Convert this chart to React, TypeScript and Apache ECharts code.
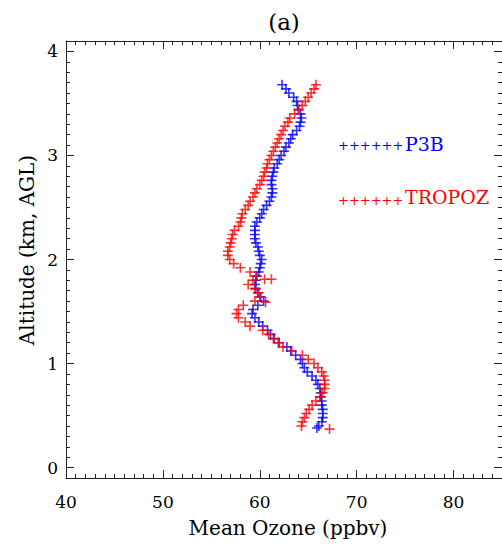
import React, { useEffect, useRef } from "react";
import * as echarts from "echarts";

// ---- data ----
const p3bAltitude = [
  0.38, 0.4, 0.44, 0.48, 0.52, 0.56, 0.6, 0.64, 0.68, 0.72, 0.76, 0.8, 0.84, 0.88, 0.92, 0.96,
  1.0, 1.04, 1.08, 1.12, 1.16, 1.2, 1.24, 1.28, 1.32, 1.36, 1.4, 1.44, 1.48, 1.52, 1.56, 1.6,
  1.64, 1.68, 1.72, 1.76, 1.8, 1.84, 1.88, 1.92, 1.96, 2.0, 2.04, 2.08, 2.12, 2.16, 2.2, 2.24,
  2.28, 2.32, 2.36, 2.4, 2.44, 2.48, 2.52, 2.56, 2.6, 2.64, 2.68, 2.72, 2.76, 2.8, 2.84, 2.88,
  2.92, 2.96, 3.0, 3.04, 3.08, 3.12, 3.16, 3.2, 3.24, 3.28, 3.32, 3.36, 3.4, 3.44, 3.48, 3.52,
  3.56, 3.6, 3.64, 3.68,
];
const p3bOzone = [
  65.9, 66.1, 66.4, 66.5, 66.5, 66.5, 66.4, 66.4, 66.3, 66.3, 66.2, 66.0, 65.8, 65.4, 64.9, 64.6,
  64.4, 64.2, 63.7, 63.2, 62.8, 62.0, 61.5, 61.1, 60.8, 60.3, 59.9, 59.5, 59.2, 59.3, 59.8, 60.4,
  60.1, 59.8, 59.6, 59.5, 59.6, 59.7, 59.9, 60.0, 60.1, 60.2, 60.0, 59.9, 59.8, 59.6, 59.5, 59.5,
  59.5, 59.5, 59.7, 60.0, 60.2, 60.4, 60.7, 61.0, 61.2, 61.3, 61.3, 61.2, 61.2, 61.3, 61.4, 61.5,
  61.8, 62.0, 62.2, 62.5, 62.7, 63.0, 63.2, 63.4, 63.8, 64.1, 64.2, 64.3, 64.2, 64.0, 63.9, 63.8,
  63.5, 63.0, 62.7, 62.3,
];

const tropozAltitude = [
  0.4, 0.44, 0.48, 0.52, 0.56, 0.6, 0.64, 0.68, 0.72, 0.76, 0.8, 0.84, 0.88, 0.92, 0.96,
  1.0, 1.04, 1.08, 1.12, 1.16, 1.2, 1.24, 1.28, 1.32, 1.36, 1.4, 1.44, 1.48, 1.52, 1.56, 1.6,
  1.64, 1.68, 1.72, 1.76, 1.8, 1.84, 1.88, 1.92, 1.96, 2.0, 2.04, 2.08, 2.12, 2.16, 2.2, 2.24,
  2.28, 2.32, 2.36, 2.4, 2.44, 2.48, 2.52, 2.56, 2.6, 2.64, 2.68, 2.72, 2.76, 2.8, 2.84, 2.88,
  2.92, 2.96, 3.0, 3.04, 3.08, 3.12, 3.16, 3.2, 3.24, 3.28, 3.32, 3.36, 3.4, 3.44, 3.48, 3.52,
  3.56, 3.6, 3.64, 3.68,
  // scattered extra points
  0.37, 1.81, 1.81, 1.59,
];
const tropozOzone = [
  64.3, 64.4, 64.6, 64.8, 65.1, 65.4, 65.8, 66.2, 66.5, 66.7, 66.7, 66.7, 66.6, 66.4, 66.0,
  65.6, 65.0, 64.4, 63.3, 62.4, 61.9, 61.4, 60.9, 60.3, 59.0, 58.5, 57.8, 57.6, 57.8, 58.3, 59.5,
  60.0, 59.9, 59.5, 58.8, 59.3, 59.6, 59.0, 58.0, 57.3, 56.9, 56.7, 56.7, 56.9, 57.0, 57.1, 57.2,
  57.4, 57.8, 58.0, 58.1, 58.2, 58.5, 58.8, 59.0, 59.3, 59.5, 59.7, 60.0, 60.2, 60.4, 60.5, 60.7,
  60.8, 61.0, 61.2, 61.4, 61.6, 61.8, 62.0, 62.2, 62.4, 62.6, 62.9, 63.1, 63.6, 64.0, 64.4, 64.7,
  65.0, 65.3, 65.6, 65.8,
  67.2, 60.5, 61.2, 60.6,
];

const xMajorTicks = [40, 50, 60, 70, 80];
const yMajorTicks = [0, 1, 2, 3, 4];
const xMin = 40;
const xMax = 85;
const yMin = -0.1;
const yMax = 4.1;

const seriesNames = ["P3B", "TROPOZ"];
const seriesColors = ["#0000ff", "#ff0000"];

const xMinorTicks: number[] = [];
for (let v = 41; v <= 85; v++) if (v % 10 !== 0) xMinorTicks.push(v);
const yMinorTicks: number[] = [];
for (let k = 1; k <= 40; k++) if (k % 10 !== 0) yMinorTicks.push(k / 10);

const PLUS = "path://M0,8.4H20V11.6H0Z M8.4,0H11.6V20H8.4Z";
const SERIF = "DejaVu Serif";
const LINE = { color: "#222", width: 1 };

function xAxis(position: "top" | "bottom", major: boolean, labels: boolean) {
  return {
    type: "value",
    position,
    min: xMin,
    max: xMax,
    axisLine: { show: major, onZero: false, lineStyle: LINE },
    axisTick: {
      show: true,
      inside: true,
      length: major ? 8 : 4,
      customValues: major ? xMajorTicks : xMinorTicks,
      lineStyle: LINE,
    },
    axisLabel: labels
      ? { show: true, customValues: xMajorTicks, margin: 15, fontFamily: SERIF, fontSize: 17, color: "#000" }
      : { show: false },
    splitLine: { show: false },
  };
}

function yAxis(position: "left" | "right", major: boolean, labels: boolean) {
  return {
    type: "value",
    position,
    min: yMin,
    max: yMax,
    axisLine: { show: major, onZero: false, lineStyle: LINE },
    axisTick: {
      show: true,
      inside: true,
      length: major ? 8 : 4,
      customValues: major ? yMajorTicks : yMinorTicks,
      lineStyle: LINE,
    },
    axisLabel: labels
      ? { show: true, customValues: yMajorTicks, margin: 8, fontFamily: SERIF, fontSize: 17, color: "#000" }
      : { show: false },
    splitLine: { show: false },
  };
}

export default function App() {
  const ref = useRef<HTMLDivElement>(null);
  useEffect(() => {
    if (!ref.current) return;
    const chart = echarts.init(ref.current, undefined, { renderer: "svg" });
    const p3bData = p3bOzone.map((v, i) => [v, p3bAltitude[i]]);
    const tropozData = tropozOzone.map((v, i) => [v, tropozAltitude[i]]);
    chart.setOption({
      animation: false,
      backgroundColor: "#fff",
      grid: { left: 66, top: 41, width: 436, height: 437, containLabel: false },
      xAxis: [
        xAxis("bottom", true, true),
        xAxis("bottom", false, false),
        xAxis("top", true, false),
        xAxis("top", false, false),
      ],
      yAxis: [
        yAxis("left", true, true),
        yAxis("left", false, false),
        yAxis("right", true, false),
        yAxis("right", false, false),
      ],
      series: [
        {
          name: seriesNames[0],
          type: "scatter",
          xAxisIndex: 0,
          yAxisIndex: 0,
          symbol: PLUS,
          symbolSize: 10,
          itemStyle: { color: seriesColors[0] },
          data: p3bData,
          silent: true,
        },
        {
          name: seriesNames[1],
          type: "scatter",
          xAxisIndex: 0,
          yAxisIndex: 0,
          symbol: PLUS,
          symbolSize: 10,
          itemStyle: { color: seriesColors[1] },
          data: tropozData,
          silent: true,
        },
      ],
      graphic: [
        {
          type: "text",
          x: 284,
          y: 22,
          style: { text: "(a)", fontFamily: SERIF, fontSize: 23, fill: "#000", align: "center", verticalAlign: "middle" },
        },
        {
          type: "text",
          x: 288,
          y: 528,
          style: { text: "Mean Ozone (ppbv)", fontFamily: SERIF, fontSize: 20, fill: "#000", align: "center", verticalAlign: "middle" },
        },
        {
          type: "text",
          x: 27,
          y: 250,
          rotation: Math.PI / 2,
          style: { text: "Altitude (km, AGL)", fontFamily: SERIF, fontSize: 20, fill: "#000", align: "center", verticalAlign: "middle" },
        },
        {
          type: "text",
          x: 338,
          y: 145,
          style: { text: "++++++", fontFamily: SERIF, fontSize: 13, fill: seriesColors[0], align: "left", verticalAlign: "middle" },
        },
        {
          type: "text",
          x: 405,
          y: 144,
          style: { text: seriesNames[0], fontFamily: SERIF, fontSize: 19, fill: seriesColors[0], align: "left", verticalAlign: "middle" },
        },
        {
          type: "text",
          x: 338,
          y: 200,
          style: { text: "++++++", fontFamily: SERIF, fontSize: 13, fill: seriesColors[1], align: "left", verticalAlign: "middle" },
        },
        {
          type: "text",
          x: 405,
          y: 197,
          style: { text: seriesNames[1], fontFamily: SERIF, fontSize: 19, fill: seriesColors[1], align: "left", verticalAlign: "middle" },
        },
      ],
    });
    return () => chart.dispose();
  }, []);
  return <div ref={ref} style={{ position: "absolute", left: 0, top: 0, width: 502, height: 552 }} />;
}
